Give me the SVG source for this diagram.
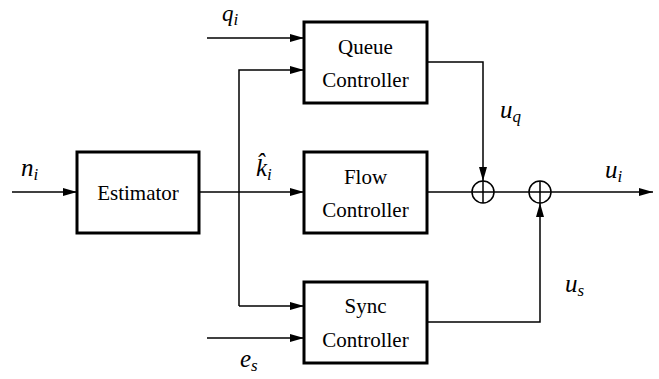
<svg xmlns="http://www.w3.org/2000/svg" width="659" height="379" viewBox="0 0 659 379">
<defs>
<marker id="ah" markerWidth="14" markerHeight="8" refX="14" refY="4" orient="auto" markerUnits="userSpaceOnUse">
<path d="M0,0 L14,4 L0,8 Z" fill="#000"/>
</marker>
<style>
.box{fill:#fff;stroke:#000;stroke-width:3}
.ln{fill:none;stroke:#000;stroke-width:1.5}
text{font-family:"Liberation Serif","Times New Roman",Times,Tinos,"Nimbus Roman","FreeSerif","DejaVu Serif","Noto Serif",serif;fill:#000}
.t{font-size:21px;text-anchor:middle}
.m{font-style:italic;font-size:25px}
.s{font-size:17px}
.sum{fill:none;stroke:#000;stroke-width:1.5}
</style>
</defs>
<g id="connectors">
<path class="ln" d="M12,192 H77" marker-end="url(#ah)"/>
<path class="ln" d="M199,192 H304" marker-end="url(#ah)"/>
<path class="ln" d="M207,38 H304" marker-end="url(#ah)"/>
<path class="ln" d="M239,306 V70 H304" marker-end="url(#ah)"/>
<path class="ln" d="M239,306 H304" marker-end="url(#ah)"/>
<path class="ln" d="M207,338 H304" marker-end="url(#ah)"/>
<path class="ln" d="M427,62 H483 V181" marker-end="url(#ah)"/>
<path class="ln" d="M427,192 H472"/>
<path class="ln" d="M494,192 H529"/>
<path class="ln" d="M551,192 H653" marker-end="url(#ah)"/>
<path class="ln" d="M427,322 H540 V203" marker-end="url(#ah)"/>
</g>
<g id="sum1">
<circle class="sum" cx="483" cy="192" r="11"/>
<path class="ln" d="M472,192 H494 M483,181 V203"/>
</g>
<g id="sum2">
<circle class="sum" cx="540" cy="192" r="11"/>
<path class="ln" d="M529,192 H551 M540,181 V203"/>
</g>
<g id="estimator">
<rect class="box" x="77" y="152" width="122" height="81"/>
<text class="t" x="138" y="200">Estimator</text>
</g>
<g id="queue">
<rect class="box" x="304" y="22" width="123" height="81"/>
<text class="t" x="365.5" y="54">Queue</text>
<text class="t" x="365.5" y="87">Controller</text>
</g>
<g id="flow">
<rect class="box" x="304" y="152" width="123" height="81"/>
<text class="t" x="365.5" y="184">Flow</text>
<text class="t" x="365.5" y="217">Controller</text>
</g>
<g id="sync">
<rect class="box" x="304" y="282" width="123" height="81"/>
<text class="t" x="365.5" y="313">Sync</text>
<text class="t" x="365.5" y="347">Controller</text>
</g>
<g id="labels">
<text class="m" x="222" y="21" style="font-size:23px">q<tspan class="s" dy="4">i</tspan></text>
<text class="m" x="21" y="176">n<tspan class="s" dy="4">i</tspan></text>
<text class="m" x="256" y="176">k&#x302;<tspan class="s" dy="4">i</tspan></text>
<text class="m" x="500" y="118">u<tspan class="s" dy="4">q</tspan></text>
<text class="m" x="605" y="178">u<tspan class="s" dy="4">i</tspan></text>
<text class="m" x="565" y="292">u<tspan class="s" dy="4">s</tspan></text>
<text class="m" x="240" y="367">e<tspan class="s" dy="4">s</tspan></text>
</g>
</svg>
